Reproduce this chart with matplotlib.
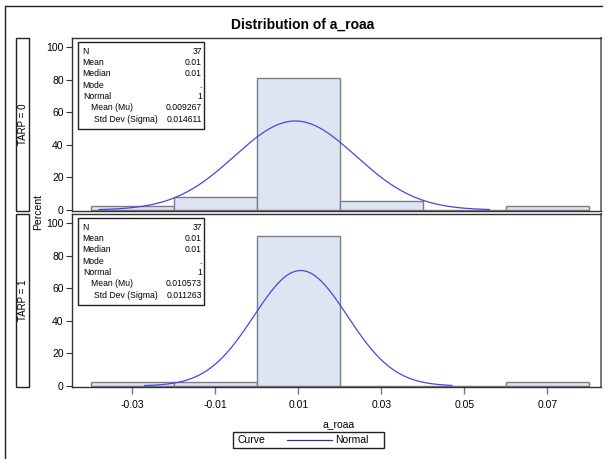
import numpy as np
import matplotlib
matplotlib.use('Agg')
import matplotlib.pyplot as plt
from matplotlib.patches import Rectangle
from matplotlib.lines import Line2D

plt.rcParams['font.family'] = ['Liberation Sans', 'DejaVu Sans']

# histogram data (percent of 37 obs per bin)
bin_edges = [-0.04, -0.02, 0.00, 0.02, 0.04, 0.06, 0.08]
pct_tarp0 = [2.7, 8.1, 81.1, 5.4, 0.0, 2.7]
pct_tarp1 = [2.7, 2.7, 91.9, 0.0, 0.0, 2.7]
panel_labels = ['TARP = 0', 'TARP = 1']

# fitted normal parameters and curve range
mu = [0.009267, 0.010573]
sigma = [0.014611, 0.011263]
curve_range = [(-0.038, 0.056), (-0.027, 0.047)]

stat_names = ['N', 'Mean', 'Median', 'Mode', 'Normal', 'Mean (Mu)', 'Std Dev (Sigma)']
stat_tarp0 = ['37', '0.01', '0.01', '.', '1', '0.009267', '0.014611']
stat_tarp1 = ['37', '0.01', '0.01', '.', '1', '0.010573', '0.011263']

xticks = [-0.03, -0.01, 0.01, 0.03, 0.05, 0.07]
yticks = [0, 20, 40, 60, 80, 100]

W, H = 607, 459
fig = plt.figure(figsize=(W / 100, H / 100), dpi=100)


def fx(x):
    return x / W


def fy(y):
    return 1 - y / H


def add_ax(left, top, right, bottom):
    return fig.add_axes([fx(left), fy(bottom), fx(right) - fx(left), fy(top) - fy(bottom)])


# outer frame (only left and top edges visible)
fig.lines.append(Line2D([fx(5), fx(5), fx(602)], [fy(470), fy(5.5), fy(5.5)],
                        transform=fig.transFigure, color='#222222', lw=1))

fig.text(fx(303), fy(25), 'Distribution of a_roaa', ha='center', va='center',
         fontsize=10, fontweight='bold')

panels = [(38, 211), (214, 387)]
bar_color = '#dce5f1'
edge_color = '#7a7f86'
curve_color = '#4b45e0'

for i, (top, bottom) in enumerate(panels):
    ax = add_ax(72, top, 601, bottom)
    pct = [pct_tarp0, pct_tarp1][i]
    widths = np.diff(bin_edges)
    ax.bar(bin_edges[:-1], pct, width=widths, align='edge', color=bar_color,
           edgecolor=edge_color, linewidth=1, zorder=2)
    xs = np.linspace(curve_range[i][0], curve_range[i][1], 300)
    ys = 100 * 0.02 * np.exp(-0.5 * ((xs - mu[i]) / sigma[i]) ** 2) / (np.sqrt(2 * np.pi) * sigma[i])
    ax.plot(xs, ys, color=curve_color, lw=0.9, zorder=3)
    ax.set_xlim(-0.0445, 0.0829)
    ax.set_ylim(-0.6, 105.5)
    ax.set_yticks(yticks)
    ax.set_xticks(xticks)
    ax.tick_params(axis='y', labelsize=7.5, length=4, width=0.8, color='#333333', pad=2)
    ax.tick_params(axis='x', labelsize=7.5, length=5, width=1, color='#777777', pad=4)
    if i == 0:
        ax.tick_params(axis='x', bottom=False, labelbottom=False)
    else:
        ax.set_xticklabels(['%.2f' % t for t in xticks])
    for s in ax.spines.values():
        s.set_color('#333333')
        s.set_linewidth(1)
    ax.spines['right'].set_color('#777777')
    ax.spines['right'].set_linewidth(1.4)

    # strip label on the left
    fig.patches.append(Rectangle((fx(16), fy(bottom)), fx(29) - fx(16), fy(top) - fy(bottom),
                                 transform=fig.transFigure, fill=False, lw=1, ec='#222222'))
    fig.text(fx(22.5), fy((top + bottom) / 2), panel_labels[i], rotation=90,
             ha='center', va='center', fontsize=7)

    # stats inset
    box_top = top + 4
    box_bot = box_top + 87
    fig.patches.append(Rectangle((fx(78), fy(box_bot)), fx(204) - fx(78), fy(box_top) - fy(box_bot),
                                 transform=fig.transFigure, fill=True, fc='white', lw=1,
                                 ec='#222222', zorder=5))
    vals = [stat_tarp0, stat_tarp1][i]
    for k, name in enumerate(stat_names):
        yy = box_top + 9 + k * 11.4
        indent = 82 if k < 4 else (83.5 if k == 4 else (91 if k == 5 else 94))
        fig.text(fx(indent), fy(yy), name, ha='left', va='center', fontsize=6.2, zorder=6)
        fig.text(fx(202), fy(yy), vals[k], ha='right', va='center', fontsize=6.2, zorder=6)

fig.text(fx(38), fy(212), 'Percent', rotation=90, ha='center', va='center', fontsize=7.5)
fig.text(fx(339), fy(424), 'a_roaa', ha='center', va='center', fontsize=7.5)

# legend box
fig.patches.append(Rectangle((fx(233), fy(448)), fx(384) - fx(233), fy(432) - fy(448),
                             transform=fig.transFigure, fill=False, lw=1, ec='#222222'))
fig.text(fx(237), fy(440), 'Curve', ha='left', va='center', fontsize=7.5)
fig.lines.append(Line2D([fx(287), fx(332)], [fy(440), fy(440)], transform=fig.transFigure,
                        color='#2b2bb0', lw=0.9))
fig.text(fx(335), fy(440), 'Normal', ha='left', va='center', fontsize=7.5)

fig.savefig('out.png', dpi=100)
